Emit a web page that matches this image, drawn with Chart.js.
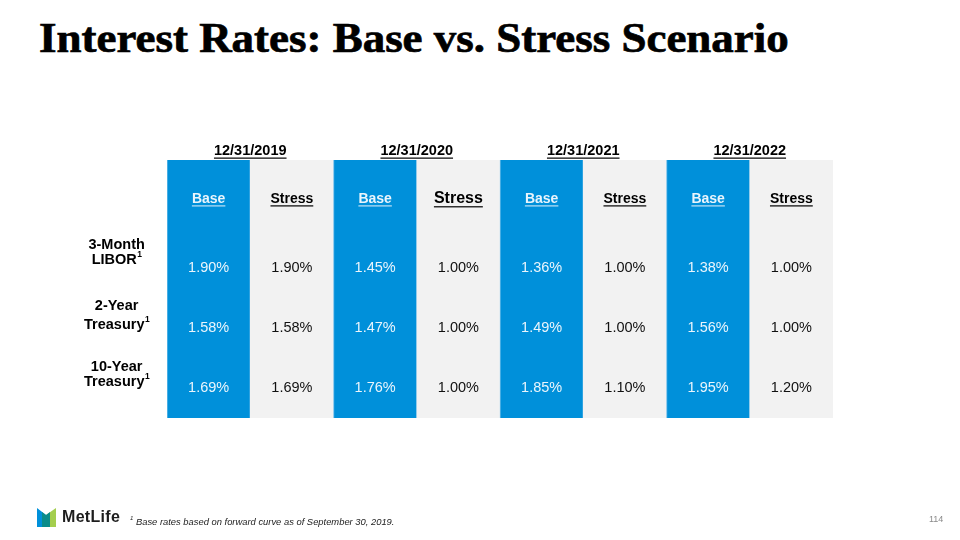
<!DOCTYPE html>
<html><head><meta charset="utf-8">
<script src="https://cdn.jsdelivr.net/npm/chart.js@4"></script>
<style>
html,body{margin:0;padding:0;background:#fff;width:960px;height:540px;overflow:hidden;}
body{position:relative;font-family:"Liberation Sans",Arial,sans-serif;}
#title{position:absolute;left:39px;top:14px;font-family:"Liberation Serif","Times New Roman",serif;font-weight:bold;font-size:42px;color:#000;white-space:nowrap;transform-origin:0 0;transform:scaleX(1.07);-webkit-text-stroke:0.7px #000;}
#wrap{position:absolute;left:0;top:0;width:960px;height:540px;}
#logo{position:absolute;left:36px;top:507px;}
#brand{position:absolute;left:62px;top:508px;font-weight:bold;font-size:16px;color:#1d1d1d;letter-spacing:0.3px;}
#note{position:absolute;left:130px;top:516px;font-style:italic;font-size:9.4px;color:#222;white-space:nowrap;}
#note sup{font-size:6px;vertical-align:top;position:relative;top:-1px;}
#page{position:absolute;left:929px;top:514px;font-size:9px;color:#8a8a8a;}
</style></head>
<body>
<div id="title">Interest Rates: Base vs. Stress Scenario</div>
<div id="wrap"><canvas id="c" width="960" height="540"></canvas></div>
<svg id="logo" width="22" height="21" viewBox="0 0 22 21">
  <polygon points="1,1 10,8 10,20 1,20" fill="#0090DA"/>
  <polygon points="20,1 20,20 10,20 10,8" fill="#A4CE4E"/>
  <polygon points="6,5 10,8 14,5 14,20 6,20" fill="#0A8C8A"/>
</svg>
<div id="brand">MetLife</div>
<div id="note"><sup>1</sup> Base rates based on forward curve as of September 30, 2019.</div>
<div id="page">114</div>
<script>
// ---- data ----
const dates = ['12/31/2019','12/31/2020','12/31/2021','12/31/2022'];
const scenarios = ['Base','Stress'];
const rowLabels = [['3-Month','LIBOR'],['2-Year','Treasury'],['10-Year','Treasury']];
const liborBase   = [1.90,1.45,1.36,1.38];
const liborStress = [1.90,1.00,1.00,1.00];
const t2Base      = [1.58,1.47,1.49,1.56];
const t2Stress    = [1.58,1.00,1.00,1.00];
const t10Base     = [1.69,1.76,1.85,1.95];
const t10Stress   = [1.69,1.00,1.10,1.20];

const columns = [];
dates.forEach(d => scenarios.forEach(s => columns.push(d + ' ' + s)));
const rows = [[liborBase,liborStress],[t2Base,t2Stress],[t10Base,t10Stress]];
const BLUE = '#0090DA', GREY = '#F2F2F2';

// column backgrounds as full-height bars
const fullHeight = columns.map(() => 1);
const colColors = columns.map((c,i) => i % 2 === 0 ? BLUE : GREY);

const tablePlugin = {
  id: 'tableText',
  afterDatasetsDraw(chart) {
    const ctx = chart.ctx, xs = chart.scales.x, ca = chart.chartArea;
    ctx.save();
    ctx.textAlign = 'center';
    ctx.textBaseline = 'middle';
    function underlined(text, x, y, font, color, lineColor) {
      ctx.font = font;
      ctx.fillStyle = color;
      ctx.fillText(text, x, y);
      const w = ctx.measureText(text).width;
      const fs = parseFloat(font.match(/([\d.]+)px/)[1]);
      ctx.fillStyle = lineColor || color;
      ctx.fillRect(x - w/2, y + fs*0.45, w, 1.2);
    }
    // date headers
    dates.forEach((d, k) => {
      const x = (xs.getPixelForValue(2*k) + xs.getPixelForValue(2*k+1)) / 2;
      underlined(d, x, ca.top - 9, 'bold 14.5px "Liberation Sans", Arial', '#000');
    });
    // scenario headers
    columns.forEach((c, i) => {
      const x = xs.getPixelForValue(i);
      const isBase = i % 2 === 0;
      const size = (i === 3) ? 16 : 14;
      underlined(scenarios[i % 2], x, ca.top + 39, 'bold ' + size + 'px "Liberation Sans", Arial',
        isBase ? '#EAF5FC' : '#000', isBase ? '#BFE2F6' : '#000');
    });
    // values
    const rowY = [ca.top + 108, ca.top + 168, ca.top + 228];
    rows.forEach((r, ri) => {
      dates.forEach((d, k) => {
        [0,1].forEach(s => {
          const i = 2*k + s;
          ctx.font = '14.5px "Liberation Sans", Arial';
          ctx.fillStyle = s === 0 ? '#EAF5FC' : '#111';
          ctx.fillText(r[s][k].toFixed(2) + '%', xs.getPixelForValue(i), rowY[ri]);
        });
      });
    });
    // row labels
    const labelX = xs.getPixelForValue(0) - 92;
    const labelY = [[ca.top + 85, ca.top + 100],[ca.top + 146, ca.top + 165],[ca.top + 207, ca.top + 222]];
    rowLabels.forEach((lines, ri) => {
      ctx.fillStyle = '#000';
      ctx.font = 'bold 14.5px "Liberation Sans", Arial';
      ctx.fillText(lines[0], labelX, labelY[ri][0]);
      // second line with superscript 1
      const w = ctx.measureText(lines[1]).width;
      ctx.font = 'bold 8.5px "Liberation Sans", Arial';
      const sw = ctx.measureText('1').width;
      const startX = labelX - (w + sw) / 2;
      ctx.textAlign = 'left';
      ctx.font = 'bold 14.5px "Liberation Sans", Arial';
      ctx.fillText(lines[1], startX, labelY[ri][1]);
      ctx.font = 'bold 8.5px "Liberation Sans", Arial';
      ctx.fillText('1', startX + w + 0.5, labelY[ri][1] - 5);
      ctx.textAlign = 'center';
    });
    ctx.restore();
  }
};

new Chart(document.getElementById('c'), {
  type: 'bar',
  data: {
    labels: columns,
    datasets: [{
      data: fullHeight,
      backgroundColor: colColors,
      borderColor: columns.map((c,i) => i % 2 === 0 ? '#6DBDE9' : GREY),
      borderWidth: {left: 1, right: 1, top: 0, bottom: 0},
      borderSkipped: false,
      barPercentage: 1,
      categoryPercentage: 1
    }]
  },
  options: {
    responsive: false,
    animation: false,
    events: [],
    layout: { padding: { left: 167, right: 127, top: 160, bottom: 122 } },
    plugins: { legend: { display: false }, tooltip: { enabled: false }, title: { display: false } },
    scales: {
      x: { display: false, offset: true, grid: { display: false } },
      y: { display: false, min: 0, max: 1 }
    }
  },
  plugins: [tablePlugin]
});
</script>
</body></html>
